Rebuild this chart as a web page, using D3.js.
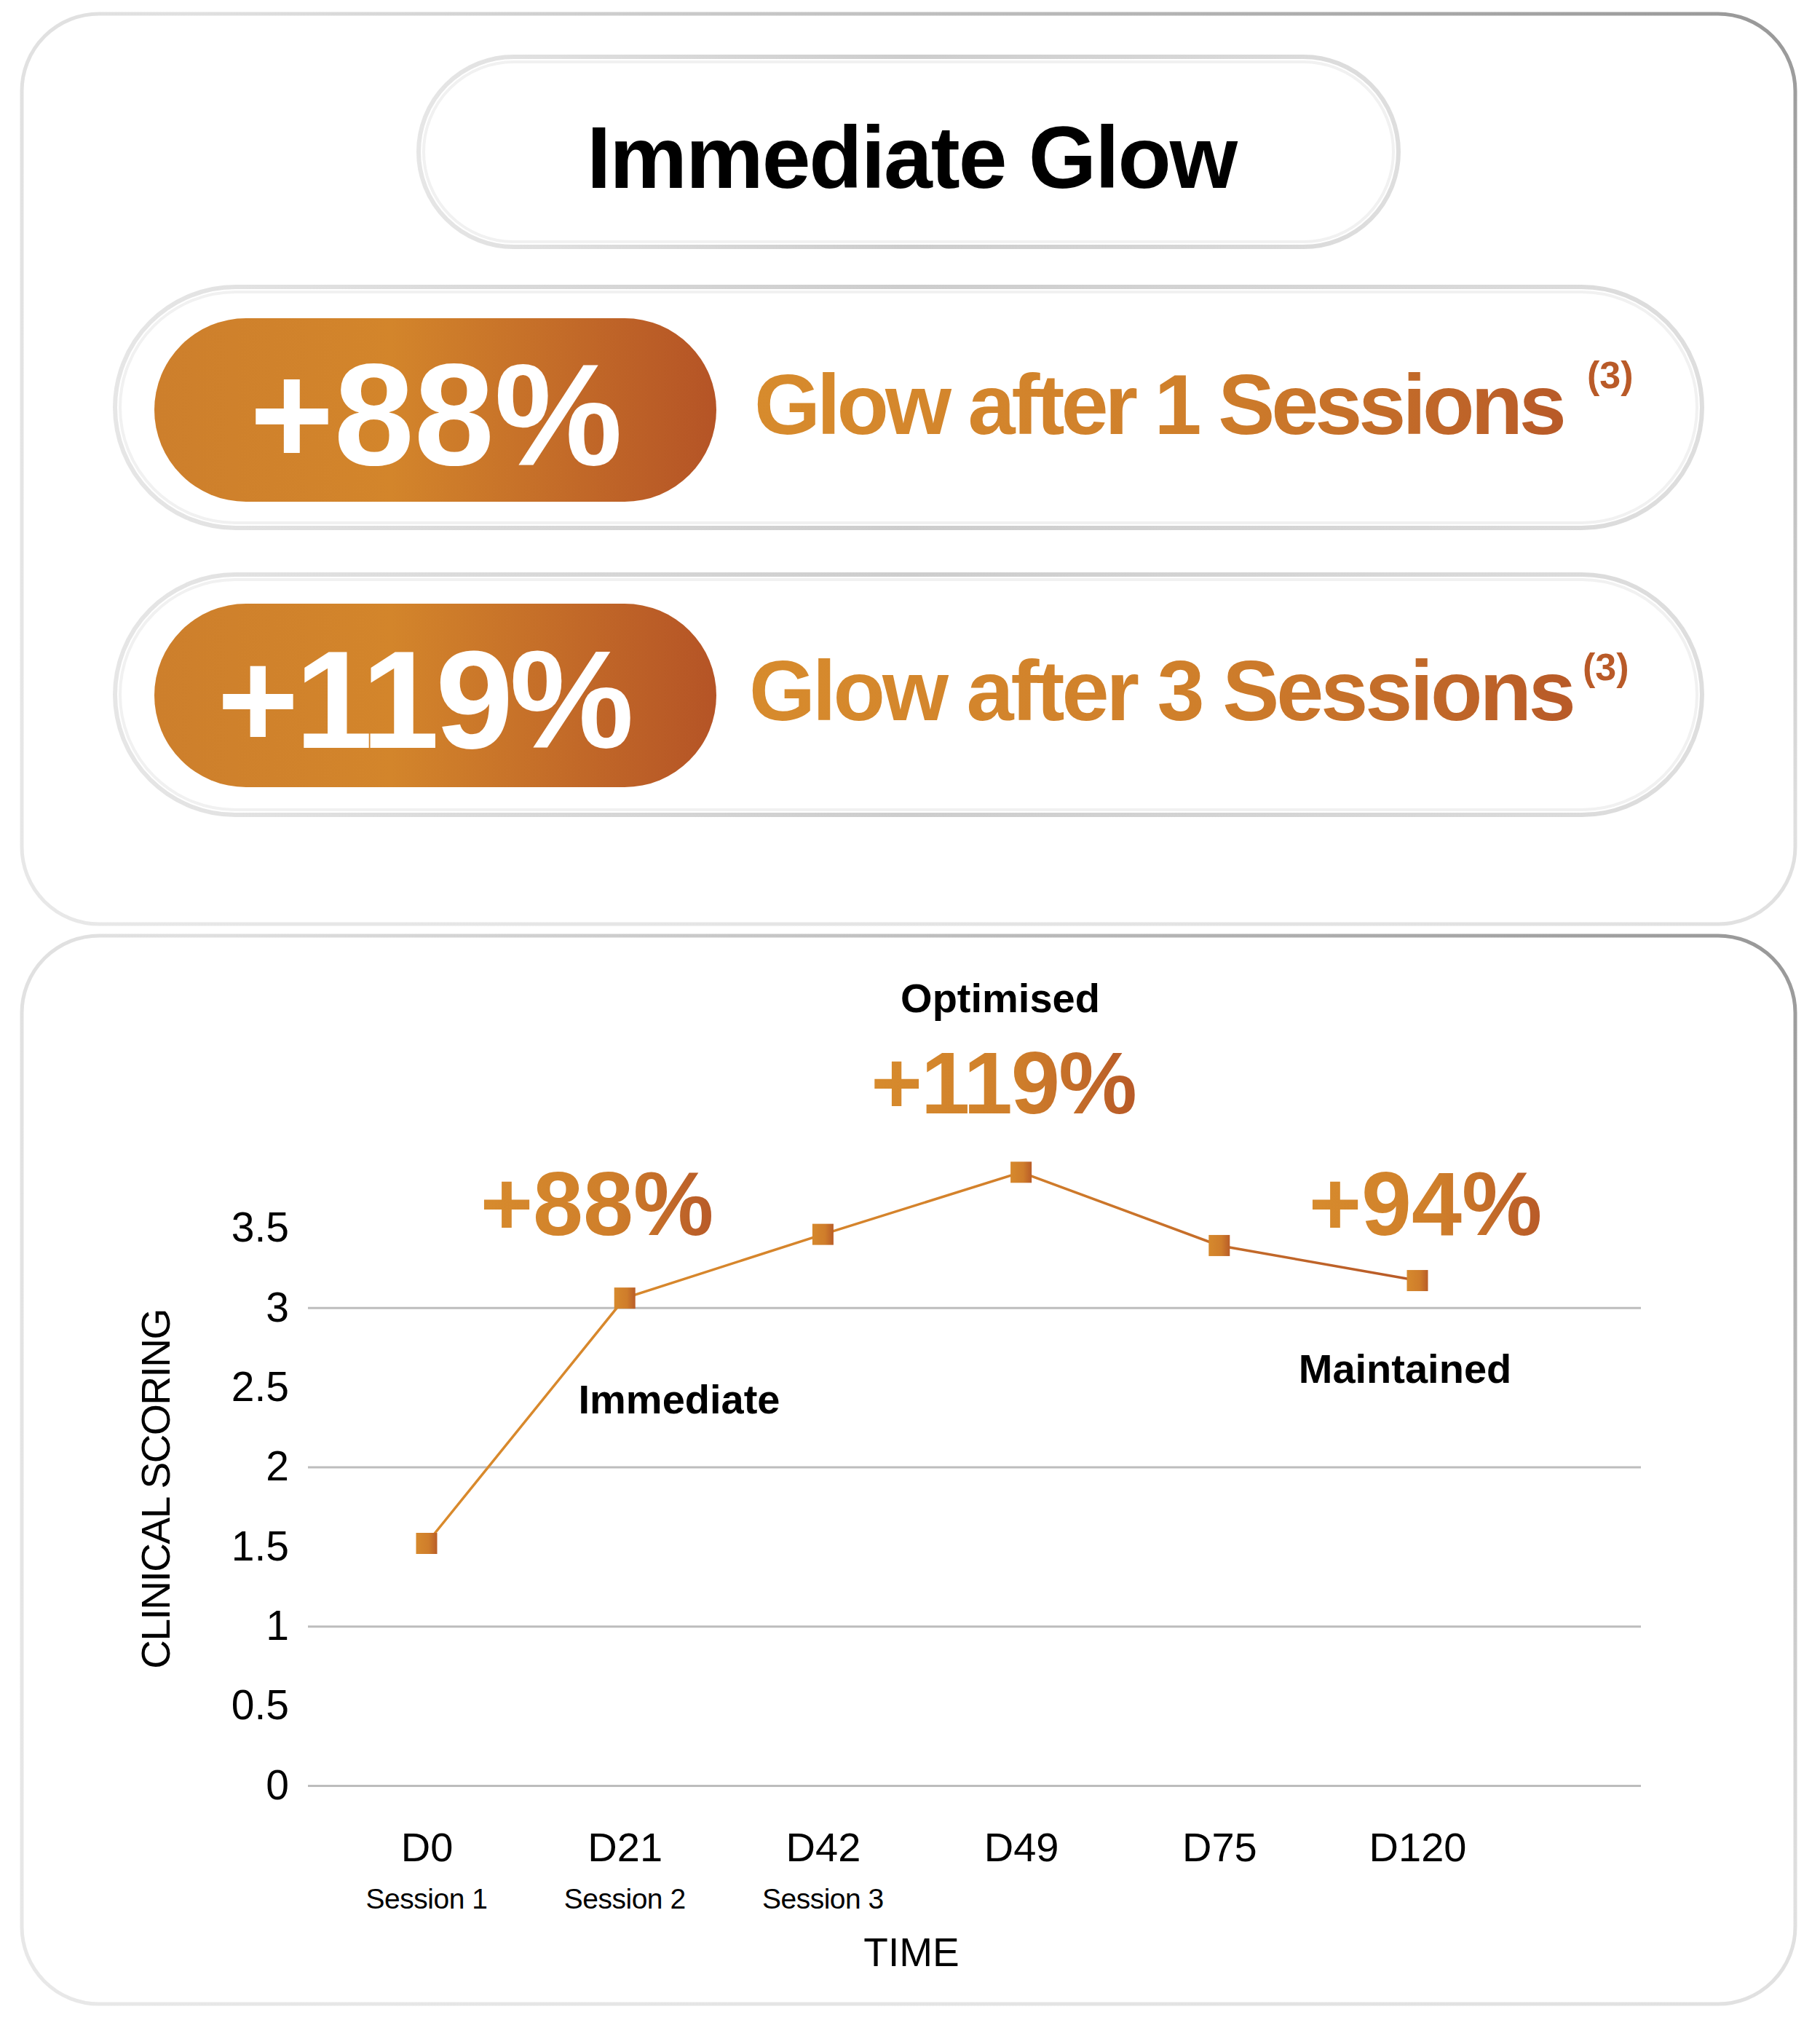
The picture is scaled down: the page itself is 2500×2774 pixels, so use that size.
<!DOCTYPE html>
<html>
<head>
<meta charset="utf-8">
<script src="https://cdn.jsdelivr.net/npm/d3@7"></script>
<style>
  body { margin: 0; background: #fff; }
  svg { display: block; font-family: "Liberation Sans", Arial, Helvetica, sans-serif; }
</style>
</head>
<body>
<div id="chart"></div>
<script>
// Data
const days = ["D0", "D21", "D42", "D49", "D75", "D120"];
const sessions = ["Session 1", "Session 2", "Session 3", "", "", ""];
const scores = [1.52, 3.06, 3.46, 3.85, 3.39, 3.17];
const yTicks = [0, 0.5, 1, 1.5, 2, 2.5, 3, 3.5];
const gridTicks = [0, 1, 2, 3];
const headline = "Immediate Glow";
const gains = ["+88%", "+119%"];
const gainTexts = ["Glow after 1 Sessions", "Glow after 3 Sessions"];
const footnote = "(3)";
const annotations = [
    { text: "Optimised", kind: "label" },
    { text: "+119%", kind: "gain" },
    { text: "+88%", kind: "gain" },
    { text: "+94%", kind: "gain" },
    { text: "Immediate", kind: "label" },
    { text: "Maintained", kind: "label" }
];

// Page size
const W = 2500, H = 2774;

const svg = d3.select("#chart")
    .append("svg")
    .attr("width", W)
    .attr("height", H);

// Gradients
const defs = svg.append("defs");

function linGrad(id, stops, attrs) {
    const g = defs.append("linearGradient").attr("id", id);
    Object.entries(attrs || {}).forEach(([k, v]) => g.attr(k, v));
    stops.forEach(s => g.append("stop").attr("offset", s[0]).attr("stop-color", s[1]));
    return g;
}

linGrad("pillFill", [[0, "#cd7f2c"], [0.42, "#d3852b"], [1, "#b55426"]]);
linGrad("textFill", [[0, "#d78b2d"], [0.55, "#cf7f2b"], [1, "#b85a28"]]);
linGrad("markFill", [[0, "#d6892d"], [0.6, "#cf7d2b"], [1, "#b95d28"]]);
linGrad("cardStroke", [[0, "#e8e8e8"], [0.55, "#e0e0e0"], [1, "#979797"]],
    { x1: "0", y1: "1", x2: "1", y2: "0" });
linGrad("pillStroke", [[0, "#e6e6e6"], [0.5, "#cdcdcd"], [1, "#dedede"]]);
linGrad("lineStroke", [[0, "#d98a2c"], [0.55, "#d4822b"], [1, "#b85a28"]],
    { gradientUnits: "userSpaceOnUse", x1: 586, y1: 0, x2: 1947, y2: 0 });

// Cards
const cards = [
    { x: 30, y: 19, w: 2436, h: 1250 },
    { x: 30, y: 1285, w: 2436, h: 1467 }
];
svg.selectAll(".card")
    .data(cards)
    .enter()
    .append("rect")
    .attr("class", "card")
    .attr("x", d => d.x)
    .attr("y", d => d.y)
    .attr("width", d => d.w)
    .attr("height", d => d.h)
    .attr("rx", 106)
    .attr("fill", "#fff")
    .attr("stroke", "url(#cardStroke)")
    .attr("stroke-width", 5);

// Pill helper: outer grey ring with a light inner ring
function pill(x, y, w, h) {
    svg.append("rect")
        .attr("x", x).attr("y", y)
        .attr("width", w).attr("height", h)
        .attr("rx", h / 2)
        .attr("fill", "#fff")
        .attr("stroke", "url(#pillStroke)")
        .attr("stroke-width", 6);
    svg.append("rect")
        .attr("x", x + 7).attr("y", y + 7)
        .attr("width", w - 14).attr("height", h - 14)
        .attr("rx", (h - 14) / 2)
        .attr("fill", "none")
        .attr("stroke", "#f1f1f1")
        .attr("stroke-width", 4);
}

// Title pill
pill(575, 78, 1346, 261);
svg.append("text")
    .attr("x", 1252)
    .attr("y", 258)
    .attr("text-anchor", "middle")
    .attr("font-size", 120)
    .attr("font-weight", 700)
    .attr("letter-spacing", -2)
    .attr("fill", "#000")
    .text(headline);

// Gain rows
const rows = [
    { top: 394, h: 331, inner: 437, textX: 1036, base: 596, numX: 599, numBase: 638, numSize: 198, numLs: 0, ls: -5, supX: 2180, supBase: 533 },
    { top: 789, h: 330, inner: 829, textX: 1029, base: 989, numX: 582, numBase: 1027, numSize: 192, numLs: -5, ls: -4, supX: 2174, supBase: 934 }
];

rows.forEach((r, i) => {
    pill(158, r.top, 2180, r.h);

    svg.append("rect")
        .attr("x", 212)
        .attr("y", r.inner)
        .attr("width", 772)
        .attr("height", 252)
        .attr("rx", 126)
        .attr("fill", "url(#pillFill)");

    svg.append("text")
        .attr("x", r.numX)
        .attr("y", r.numBase)
        .attr("text-anchor", "middle")
        .attr("font-size", r.numSize)
        .attr("font-weight", 700)
        .attr("letter-spacing", r.numLs)
        .attr("fill", "#fff")
        .text(gains[i]);

    svg.append("text")
        .attr("x", r.textX)
        .attr("y", r.base)
        .attr("font-size", 117)
        .attr("font-weight", 700)
        .attr("letter-spacing", r.ls)
        .attr("fill", "url(#textFill)")
        .text(gainTexts[i]);

    svg.append("text")
        .attr("x", r.supX)
        .attr("y", r.supBase)
        .attr("font-size", 52)
        .attr("font-weight", 700)
        .attr("fill", "#b95a28")
        .text(footnote);
});

// Chart scales
const x = d3.scalePoint()
    .domain(days)
    .range([586, 1947]);

const y = d3.scaleLinear()
    .domain([0, 4])
    .range([2452, 1577]);

const plotLeft = 423, plotRight = 2254;

// Gridlines
const grid = svg.append("g")
    .attr("transform", `translate(${plotLeft},0)`)
    .call(d3.axisLeft(y)
        .tickValues(gridTicks)
        .tickSize(-(plotRight - plotLeft))
        .tickFormat(""));
grid.select(".domain").remove();
grid.selectAll("line")
    .attr("stroke", "#bdbdbd")
    .attr("stroke-width", 3);

// Y axis labels
const yAxis = svg.append("g")
    .attr("transform", `translate(${plotLeft},0)`)
    .call(d3.axisLeft(y)
        .tickValues(yTicks)
        .tickSize(0)
        .tickPadding(26)
        .tickFormat(d => String(d)));
yAxis.select(".domain").remove();
yAxis.selectAll("text")
    .attr("font-family", null)
    .attr("font-size", 57)
    .attr("fill", "#000");

// X axis labels
const xAxis = svg.append("g")
    .attr("transform", `translate(0,${y(0)})`)
    .call(d3.axisBottom(x)
        .tickSize(0)
        .tickPadding(64));
xAxis.select(".domain").remove();
xAxis.selectAll("text")
    .attr("font-family", null)
    .attr("font-size", 56)
    .attr("fill", "#000");

// Session sub-labels
svg.selectAll(".session")
    .data(days.filter((d, i) => sessions[i]))
    .enter()
    .append("text")
    .attr("class", "session")
    .attr("x", d => x(d))
    .attr("y", 2621)
    .attr("text-anchor", "middle")
    .attr("font-size", 39)
    .attr("letter-spacing", -0.5)
    .attr("fill", "#000")
    .text(d => sessions[days.indexOf(d)]);

// Axis titles
svg.append("text")
    .attr("x", 1252)
    .attr("y", 2700)
    .attr("text-anchor", "middle")
    .attr("font-size", 55)
    .attr("fill", "#000")
    .text("TIME");

svg.append("text")
    .attr("transform", "translate(213,2045) rotate(-90)")
    .attr("text-anchor", "middle")
    .attr("dy", "0.36em")
    .attr("font-size", 55)
    .attr("letter-spacing", -1.5)
    .attr("fill", "#000")
    .text("CLINICAL SCORING");

// Line
const line = d3.line()
    .x((d, i) => x(days[i]))
    .y(d => y(d));

svg.append("path")
    .datum(scores)
    .attr("d", line)
    .attr("fill", "none")
    .attr("stroke", "url(#lineStroke)")
    .attr("stroke-width", 3.5);

// Markers
const ms = 29;
svg.selectAll(".marker")
    .data(scores)
    .enter()
    .append("rect")
    .attr("class", "marker")
    .attr("x", (d, i) => x(days[i]) - ms / 2)
    .attr("y", d => y(d) - ms / 2)
    .attr("width", ms)
    .attr("height", ms)
    .attr("fill", "url(#markFill)");

// Annotations
const annoPos = [
    { x: 1374, y: 1390, size: 56, ls: 0 },
    { x: 1378, y: 1529, size: 121, ls: -2 },
    { x: 820, y: 1696, size: 124, ls: 0 },
    { x: 1958, y: 1696, size: 124, ls: 0 },
    { x: 933, y: 1941, size: 56, ls: 0 },
    { x: 1930, y: 1899, size: 56, ls: 0 }
];

svg.selectAll(".anno")
    .data(annotations)
    .enter()
    .append("text")
    .attr("class", "anno")
    .attr("x", (d, i) => annoPos[i].x)
    .attr("y", (d, i) => annoPos[i].y)
    .attr("text-anchor", "middle")
    .attr("font-size", (d, i) => annoPos[i].size)
    .attr("font-weight", 700)
    .attr("letter-spacing", (d, i) => annoPos[i].ls)
    .attr("fill", d => d.kind === "gain" ? "url(#textFill)" : "#000")
    .text(d => d.text);
</script>
</body>
</html>
